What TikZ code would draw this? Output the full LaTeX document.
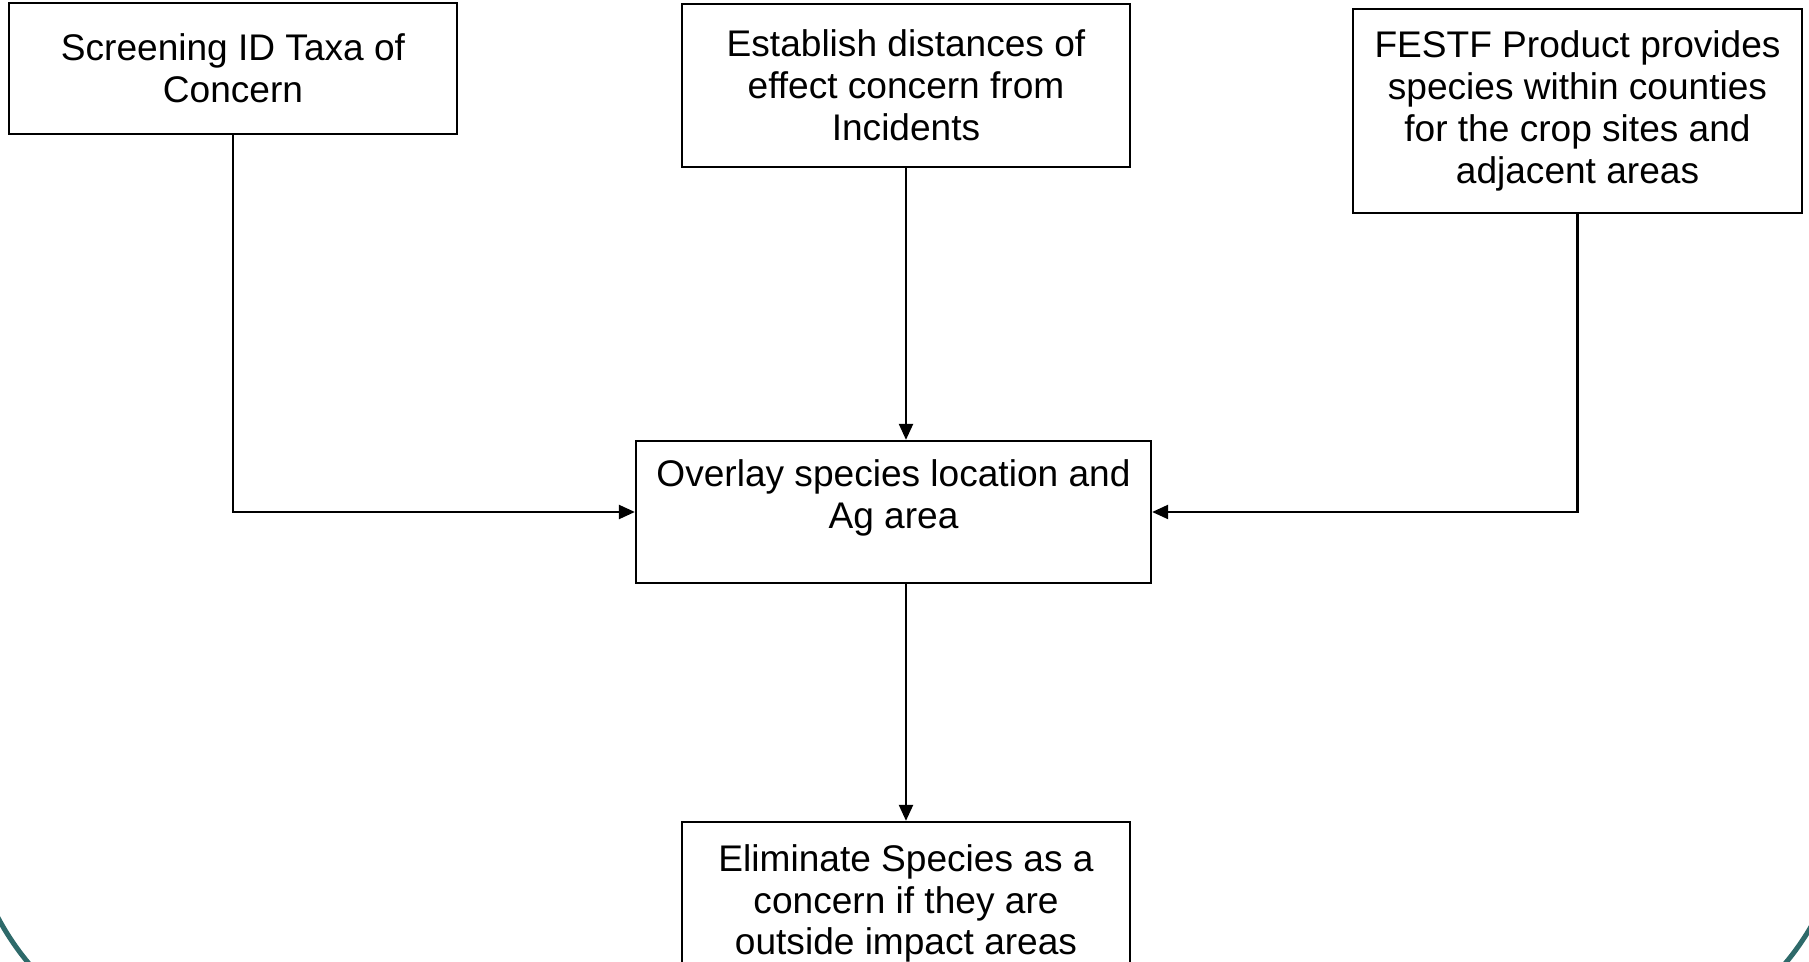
\documentclass[tikz,border=0pt]{standalone}
\usepackage{fontspec}
\setmainfont{Liberation Sans}
\usetikzlibrary{arrows.meta}
\definecolor{frameteal}{RGB}{46,106,106}

\begin{document}
\begin{tikzpicture}[
    box/.style={draw,line width=0.65pt,inner sep=0pt,align=center,minimum width=4.48cm,
      font=\fontsize{10.55}{11.9}\selectfont},
    flow/.style={line width=0.65pt,-{Triangle[length=0.16cm,width=0.14cm]}}]
  \useasboundingbox (0,0) rectangle (18.09,-9.62);
  \clip (0,0) rectangle (18.09,-9.62);
  \draw[frameteal,line width=0.05cm,rounded corners=2.66cm]
    (-0.33,-6) -- (-0.33,-10.59) -- (18.47,-10.59) -- (18.47,-6);
  \node[box,minimum height=1.31cm] (taxa) at (2.33,-0.685) {Screening ID Taxa of\\Concern};
  \node[box,minimum height=1.63cm] (dist) at (9.06,-0.855)
    {Establish distances of\\effect concern from\\Incidents};
  \node[box,minimum width=4.49cm,minimum height=2.04cm] (festf) at (15.775,-1.11)
    {FESTF Product provides\\species within counties\\for the crop sites and\\adjacent areas};
  \node[box,minimum width=5.15cm,minimum height=1.42cm,text depth=0.36cm] (overlay) at (8.935,-5.12)
    {Overlay species location and\\Ag area};
  \node[box,minimum height=1.63cm] (elim) at (9.06,-9.035)
    {Eliminate Species as a\\concern if they are\\outside impact areas};
  \draw[flow] (taxa.south) |- (overlay.west);
  \draw[flow] (festf.south) |- (overlay.east);
  \draw[flow] (dist.south) -- (dist.south |- overlay.north);
  \draw[flow] (elim.north |- overlay.south) -- (elim.north);
\end{tikzpicture}
\end{document}
